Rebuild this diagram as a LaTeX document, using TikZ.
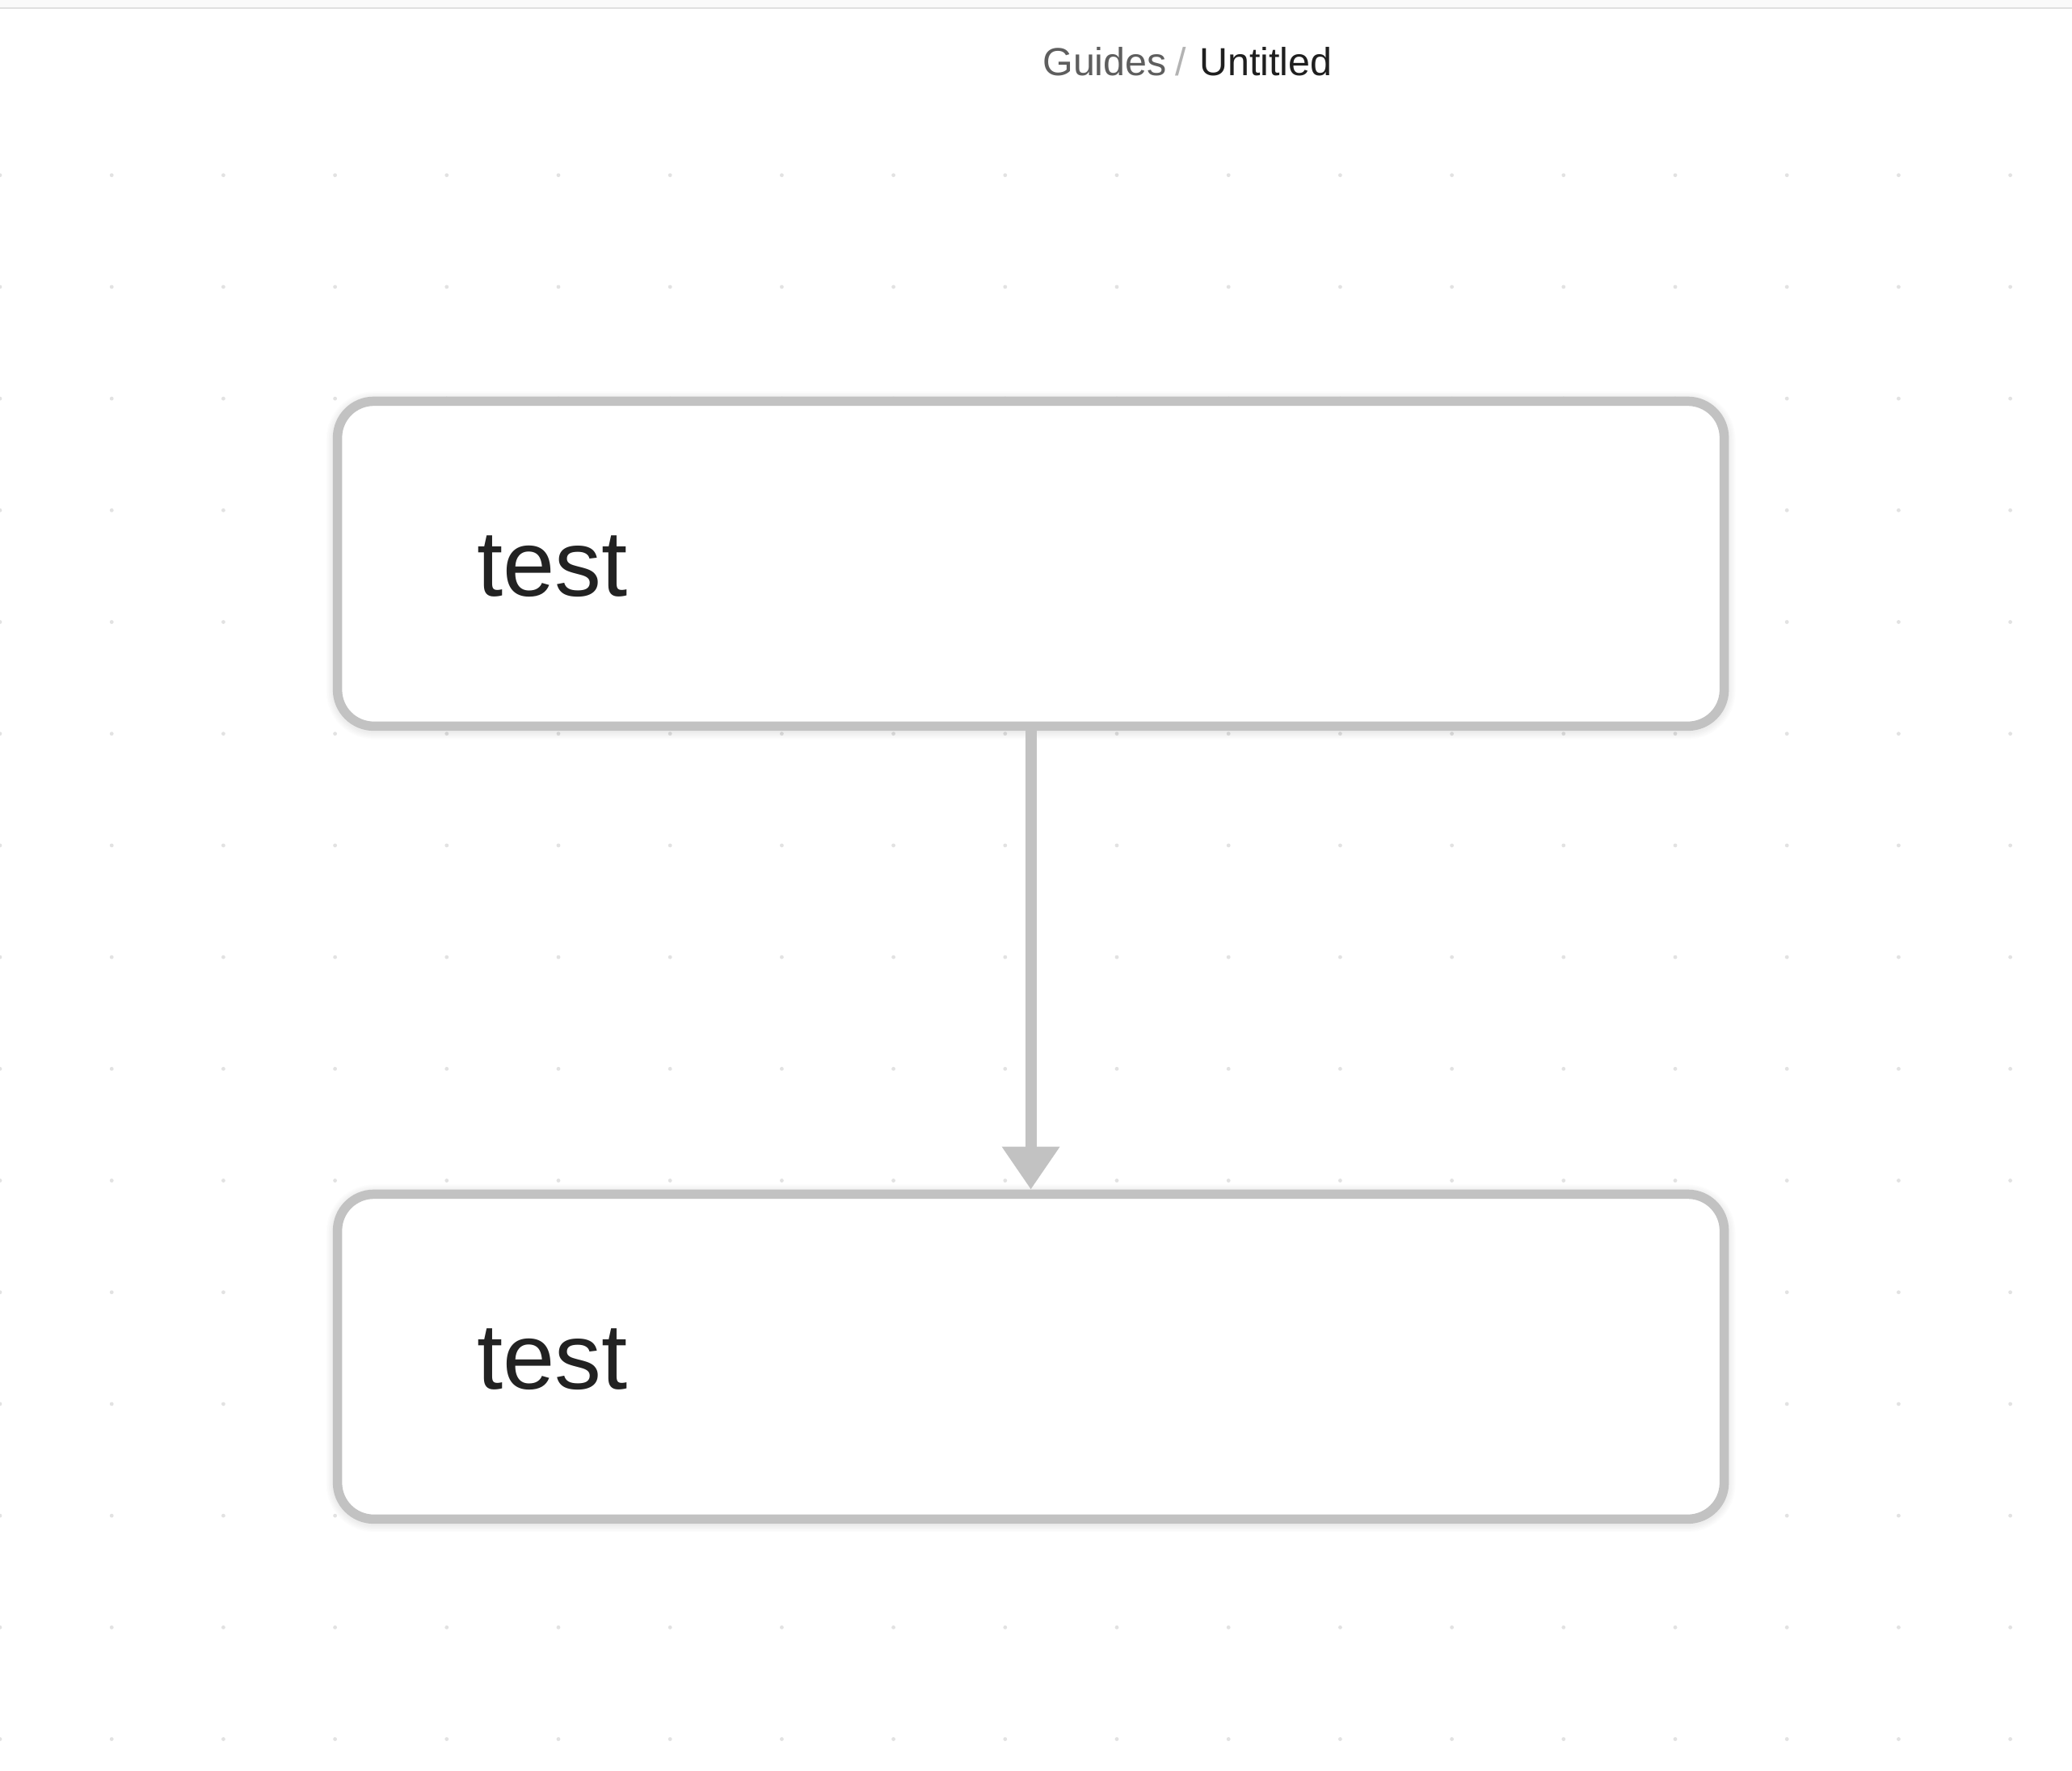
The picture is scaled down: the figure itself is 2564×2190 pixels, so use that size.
\documentclass[tikz,border=0pt]{standalone}
\usepackage{fontspec}
\setmainfont{Liberation Sans}
\usetikzlibrary{arrows.meta,calc}
\definecolor{edgec}{HTML}{C2C2C2}
\definecolor{dotc}{HTML}{E2E2E2}
\definecolor{txtc}{HTML}{222222}
\definecolor{crumbA}{HTML}{5E5E5E}
\definecolor{crumbS}{HTML}{B3B3B3}
\definecolor{crumbB}{HTML}{1F1F1F}
\definecolor{barc}{HTML}{FAFAFA}
\definecolor{linec}{HTML}{E0E0E0}
\begin{document}
\begin{tikzpicture}[x=0.5pt,y=-0.5pt,
  box/.style={draw=edgec, line width=5.75pt, fill=white, rounded corners=22.5pt,
    minimum width=858pt, minimum height=201pt, inner sep=0pt},
  softshadow/.style={draw=black, draw opacity=0.012, rounded corners=22.5pt},
  boxtext/.style={anchor=base west, inner sep=0pt, text=txtc, font=\fontsize{57.8pt}{70pt}\selectfont},
  crumb/.style={anchor=base west, inner sep=0pt, font=\fontsize{24.2pt}{28pt}\selectfont},
  conn/.style={draw=edgec, line width=7pt, -{Triangle[width=34pt,length=26.5pt]}}]
\useasboundingbox (0,0) rectangle (2564,2190);
\fill[white] (0,0) rectangle (2564,2190);
% header bar
\fill[barc] (0,0) rectangle (2564,9);
\draw[linec, line width=1pt] (0,10) -- (2564,10);
% dot grid
\foreach \i in {0,...,18} {
  \foreach \j in {0,...,14} {
    \fill[dotc] (138.2*\i, 216.7+138.2*\j) circle[radius=1.2pt];
  }
}
% soft shadows behind the boxes
\foreach \w in {6.5,8,9.5,11,12.5,14} {
  \draw[softshadow, line width=\w pt] (417.7,498.4) rectangle (2133.5,900.4);
  \draw[softshadow, line width=\w pt] (417.7,1479.4) rectangle (2133.5,1881.4);
}
% breadcrumb
\node[crumb, text=crumbA] (guides) at (1290,93.3) {Guides};
\node[crumb, text=crumbS] (slash) at (1454,93.3) {/};
\node[crumb, text=crumbB] (untitled) at (1484,93.3) {Untitled};
% boxes
\node[box] (top) at (1275.6,697.4) {};
\node[box] (bot) at (1275.6,1678.4) {};
\node[boxtext] (toptext) at ($(top.center)+(-686,40)$) {test};
\node[boxtext] (bottext) at ($(bot.center)+(-686,40)$) {test};
% connector
\draw[conn] (top.south) -- (bot.north);
\end{tikzpicture}
\end{document}
